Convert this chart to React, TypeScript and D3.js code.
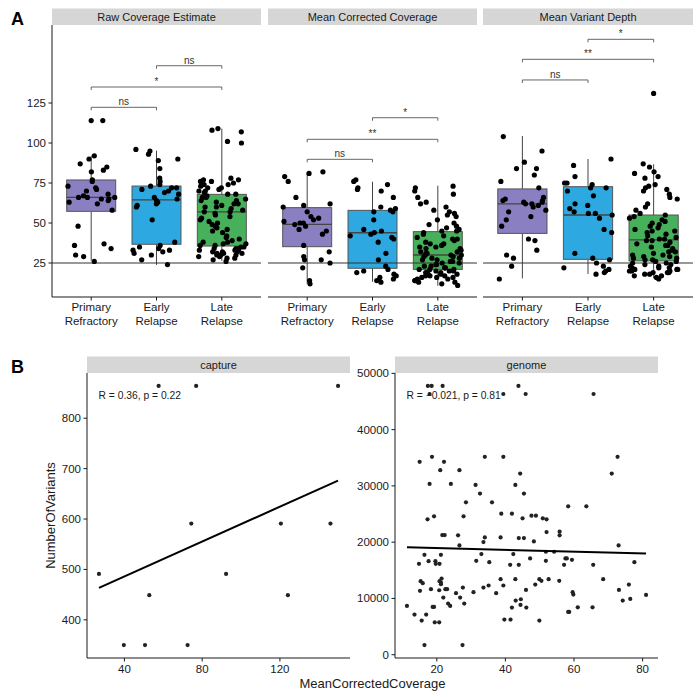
import React from "react";
import * as d3 from "d3";

// ---------- Panel A data ----------
const categories = ["Primary Refractory", "Early Relapse", "Late Relapse"];
const categoryLines = [["Primary", "Refractory"], ["Early", "Relapse"], ["Late", "Relapse"]];
const metrics = ["Raw Coverage Estimate", "Mean Corrected Coverage", "Mean Variant Depth"];
const yTicksA = [25, 50, 75, 100, 125];
const thresholdA = 25;

const rawPrimary = [114, 92, 90, 87, 85, 83, 82, 77, 76, 73, 72, 71, 70, 68, 67, 66, 66, 66, 65, 65, 64, 63, 62, 58, 48, 37, 36, 34, 30, 29, 26];
const rawEarly = [96, 95, 93, 90, 89, 84, 78, 76, 74, 73, 72, 72, 71, 70, 69, 68, 66, 65, 64, 63, 62, 61, 60, 52, 38, 36, 35, 34, 33, 33, 32, 31, 30, 27, 24];
const rawLate = [109, 108, 107, 101, 100, 78, 77, 77, 76, 76, 75, 74, 74, 73, 72, 72, 71, 70, 70, 69, 68, 68, 67, 66, 66, 65, 64, 64, 63, 62, 62, 61, 60, 60, 59, 58, 57, 57, 56, 55, 54, 53, 52, 51, 50, 49, 48, 47, 46, 45, 44, 42, 41, 40, 39, 38, 38, 37, 37, 36, 36, 35, 35, 34, 34, 34, 33, 33, 33, 33, 32, 32, 32, 31, 31, 31, 30, 30, 30, 29, 29, 28, 28, 27, 26];

const correctedPrimary = [82, 81, 79, 76, 66, 62, 61, 60, 57, 54, 53, 52, 51, 50, 50, 49, 48, 46, 45, 43, 36, 32, 29, 27, 27, 25, 22, 14, 12];
const correctedEarly = [77, 76, 74, 72, 71, 70, 66, 60, 59, 58, 57, 57, 52, 46, 45, 44, 43, 42, 41, 40, 38, 31, 27, 23, 21, 20, 19, 18, 17, 16, 15, 14, 13];
const correctedLate = [73, 72, 70, 68, 66, 63, 62, 60, 58, 57, 56, 55, 54, 52, 50, 49, 48, 47, 46, 45, 45, 44, 43, 42, 41, 40, 40, 39, 38, 37, 37, 36, 35, 35, 34, 34, 33, 32, 32, 31, 31, 30, 30, 30, 29, 29, 28, 28, 27, 27, 26, 26, 25, 25, 24, 24, 23, 23, 22, 22, 22, 21, 21, 21, 20, 20, 20, 19, 19, 19, 18, 18, 18, 17, 17, 17, 16, 16, 16, 15, 15, 14, 14, 13, 13, 12, 11];

const depthPrimary = [104, 95, 88, 84, 84, 80, 76, 72, 66, 65, 64, 64, 63, 63, 62, 62, 61, 60, 58, 57, 54, 52, 48, 40, 39, 33, 30, 28, 23, 15];
const depthEarly = [90, 86, 79, 75, 75, 74, 72, 72, 70, 67, 62, 61, 59, 57, 56, 56, 55, 53, 46, 44, 31, 28, 27, 25, 23, 22, 21, 20, 19, 18];
const depthLate = [87, 85, 82, 81, 79, 78, 74, 73, 72, 71, 70, 68, 66, 65, 62, 60, 58, 56, 55, 54, 53, 52, 51, 50, 49, 48, 47, 46, 45, 45, 44, 43, 42, 41, 40, 40, 39, 39, 38, 37, 36, 36, 35, 34, 33, 32, 32, 31, 30, 30, 29, 29, 28, 28, 27, 27, 26, 26, 25, 25, 24, 24, 23, 23, 22, 22, 22, 21, 21, 21, 20, 20, 20, 19, 19, 19, 18, 18, 17, 17, 16, 15];

// box stats: [lower whisker, q1, median, q3, upper whisker]
const rawStats = [[26.4, 57.3, 66, 76.9, 91.9], [23.8, 36.7, 64.4, 73.1, 95.2], [26.3, 35.6, 56.9, 67.9, 109]];
const correctedStats = [[11.9, 35.2, 49.2, 59.6, 81.4], [13.3, 21.7, 43.9, 57.9, 75.8], [10.8, 21.0, 30.0, 44.6, 73.3]];
const depthStats = [[15.4, 43.5, 61.9, 71.3, 104.4], [18.1, 27.3, 55, 72.7, 90], [15.4, 26.3, 39.4, 55, 86.7]];
const rawOutliers = [[114], [], []];
const correctedOutliers = [[], [], []];
const depthOutliers = [[], [], [131]];

const bracketPairs = [[0, 1], [0, 2], [1, 2]];
const rawBracketY = [122.3, 135, 148.3];
const rawBracketLabel = ["ns", "*", "ns"];
const correctedBracketY = [89.8, 102.3, 115.8];
const correctedBracketLabel = ["ns", "**", "*"];
const depthBracketY = [139.4, 152.3, 164.8];
const depthBracketLabel = ["ns", "**", "*"];

const boxColors = ["#8a7fc1", "#2ea8e1", "#47b05a"];

// ---------- Panel B data ----------
const captureX = [26.9, 39.7, 50.6, 52.8, 57.6, 72.5, 74.4, 76.9, 92.3, 120.5, 124.1, 146, 149.9];
const captureY = [491, 350, 350, 449, 864, 350, 591, 864, 491, 591, 449, 591, 864];
const genomeX = [17.4, 18.5, 21.7, 43.8, 17.9, 39.4, 45.9, 65.7, 18.6, 34.0, 39.4, 72.7, 15.0, 22.1, 21.0, 26.6, 44.3, 71.0, 17.9, 24.1, 31.3, 42.9, 32.6, 45.4, 28.5, 36.1, 58.3, 63.6, 38.8, 41.9, 45.0, 19.2, 17.3, 27.8, 47.6, 48.9, 50.9, 52.0, 52.0, 55.8, 55.8, 21.6, 22.3, 26.2, 26.6, 73.0, 33.6, 34.0, 38.6, 43.9, 45.4, 48.3, 16.4, 21.2, 33.0, 42.3, 51.8, 54.2, 17.6, 14.8, 19.6, 19.7, 20.8, 31.5, 35.3, 41.4, 43.9, 47.2, 51.8, 57.5, 57.9, 57.1, 59.4, 65.6, 77.6, 15.3, 15.9, 15.1, 18.3, 20.8, 21.2, 21.2, 21.4, 20.7, 21.9, 22.5, 23.0, 23.3, 23.9, 25.6, 26.8, 27.6, 28.0, 30.7, 33.6, 35.1, 37.3, 38.6, 39.4, 42.9, 43.0, 44.5, 44.4, 46.0, 46.1, 41.9, 48.7, 49.9, 50.5, 52.6, 55.7, 59.6, 59.8, 61.1, 65.4, 68.5, 73.1, 76.0, 74.2, 76.4, 81.0, 58.6, 58.3, 11.3, 13.5, 16.9, 15.6, 19.2, 18.8, 19.4, 20.7, 39.7, 41.5, 49.9, 16.4, 27.5];
const genomeY = [47760, 47760, 47760, 47760, 46330, 46330, 46330, 46330, 35160, 35160, 35160, 35160, 34270, 34270, 32790, 32790, 32190, 32190, 30350, 30350, 30180, 30180, 28630, 28630, 27090, 27090, 26370, 26370, 25070, 25070, 24240, 24590, 24060, 24590, 24710, 24710, 24240, 24060, 21800, 21860, 21210, 21270, 21270, 21210, 19420, 19420, 20020, 20850, 20850, 20730, 20730, 20140, 17760, 17760, 17880, 17880, 18300, 18300, 16630, 16160, 16630, 16160, 16160, 16690, 16450, 15980, 15980, 17110, 16690, 17110, 17110, 15980, 16870, 15980, 16450, 13070, 12710, 11350, 11640, 13070, 12830, 12530, 13540, 11460, 10160, 11640, 11640, 9090, 8670, 10930, 10160, 11940, 9090, 11110, 11940, 12300, 10930, 13420, 12300, 13420, 9620, 9860, 8850, 11520, 8380, 8380, 12470, 13420, 13130, 13420, 13130, 11110, 10690, 8430, 8430, 13420, 11520, 12470, 9620, 9920, 10630, 7600, 7600, 8670, 7130, 7130, 6060, 8490, 8490, 5760, 5760, 6240, 6240, 6060, 1720, 1720];
const facetsB = ["capture", "genome"];
const captureXTicks = [40, 80, 120];
const captureYTicks = [400, 500, 600, 700, 800];
const genomeXTicks = [20, 40, 60, 80];
const genomeYTicks = [0, 10000, 20000, 30000, 40000, 50000];
const corrLabels = ["R = 0.36, p = 0.22", "R = \u22120.021, p = 0.81"];

const FONT = "'Liberation Sans', Arial, Helvetica, sans-serif";
const INK = "#1a1a1a";

// deterministic horizontal jitter offset in [-0.5, 0.5)
function jitter(i: number, seed: number) {
  const s = Math.sin((i + 1) * 12.9898 + (seed + 1) * 78.233) * 43758.5453;
  return s - Math.floor(s) - 0.5;
}

function expand(vals: number[]) {
  const [a, b] = d3.extent(vals) as [number, number];
  const p = (b - a) * 0.05;
  return [a - p, b + p];
}

function fitLine(xs: number[], ys: number[]) {
  const mx = d3.mean(xs)!, my = d3.mean(ys)!;
  let sxy = 0, sxx = 0;
  xs.forEach((x, i) => { sxy += (x - mx) * (ys[i] - my); sxx += (x - mx) * (x - mx); });
  const slope = sxy / sxx;
  return (x: number) => my + slope * (x - mx);
}

export default function App() {
  const W = 700, H = 697;
  const aTop = 25, aBot = 297;
  const yA = d3.scaleLinear().domain([3.75, 173.75]).range([aBot, aTop]);
  const panelX = [[52, 261], [268, 477], [483, 693]];
  const points = [[rawPrimary, rawEarly, rawLate], [correctedPrimary, correctedEarly, correctedLate], [depthPrimary, depthEarly, depthLate]];
  const stats = [rawStats, correctedStats, depthStats];
  const outliers = [rawOutliers, correctedOutliers, depthOutliers];
  const bY = [rawBracketY, correctedBracketY, depthBracketY];
  const bL = [rawBracketLabel, correctedBracketLabel, depthBracketLabel];

  // Panel B
  const bTop = 373, bBot = 658;
  const bPanels = [[87, 350], [395, 658]];
  const xs = [captureX, genomeX];
  const ys = [captureY, genomeY];
  const xTicksB = [captureXTicks, genomeXTicks];
  const yTicksB = [captureYTicks, genomeYTicks];

  return (
    <svg width={W} height={H} style={{ position: "absolute", left: 0, top: 0, background: "#fff" }} fontFamily={FONT}>
      <rect x={0} y={0} width={W} height={H} fill="#fff" />
      <text x={11} y={24.5} fontSize={18} fontWeight="bold" fill="#000">A</text>
      <text x={11} y={373} fontSize={18} fontWeight="bold" fill="#000">B</text>

      {/* Panel A */}
      {metrics.map((m, mi) => {
        const [x0, x1] = panelX[mi];
        const xs = d3.scalePoint<string>().domain(categories).range([x0, x1]).padding(0.6);
        const step = xs.step();
        const bw = step * 0.75;
        return (
          <g key={m}>
            <rect x={x0} y={8.5} width={x1 - x0} height={aTop - 8.5} fill="#d6d6d6" />
            <text x={(x0 + x1) / 2} y={20.5} fontSize={11} textAnchor="middle" fill={INK}>{m}</text>
            {categories.map((c, ci) => {
              const cx = xs(c)!;
              const [lo, q1, med, q3, hi] = stats[mi][ci];
              return (
                <g key={c}>
                  <line x1={cx} x2={cx} y1={yA(hi)} y2={yA(q3)} stroke="#444" strokeWidth={1} />
                  <line x1={cx} x2={cx} y1={yA(q1)} y2={yA(lo)} stroke="#444" strokeWidth={1} />
                  <rect x={cx - bw / 2} y={yA(q3)} width={bw} height={yA(q1) - yA(q3)} fill={boxColors[ci]} stroke="#555" strokeWidth={1} />
                  <line x1={cx - bw / 2} x2={cx + bw / 2} y1={yA(med)} y2={yA(med)} stroke="#444" strokeWidth={1.3} />
                </g>
              );
            })}
            <line x1={x0} x2={x1} y1={yA(thresholdA)} y2={yA(thresholdA)} stroke="#333" strokeWidth={1} />
            {categories.map((c, ci) => {
              const cx = xs(c)!;
              return (
                <g key={c + "p"}>
                  {outliers[mi][ci].map((v, k) => (
                    <circle key={"o" + k} cx={cx} cy={yA(v)} r={2.6} fill="#000" />
                  ))}
                  {points[mi][ci].map((v, k) => (
                    <circle key={k} cx={cx + jitter(k, mi * 3 + ci) * 2 * 0.37 * step} cy={yA(v)} r={2.6} fill="#000" />
                  ))}
                </g>
              );
            })}
            {bracketPairs.map(([a, b], bi) => {
              const xa = xs(categories[a])!, xb = xs(categories[b])!;
              const y = yA(bY[mi][bi]);
              return (
                <g key={"b" + bi}>
                  <path d={`M${xa},${y + 3}V${y}H${xb}V${y + 3}`} fill="none" stroke="#555" strokeWidth={0.9} />
                  <text x={(xa + xb) / 2} y={y - 2.2} fontSize={10} textAnchor="middle" fill="#333">{bL[mi][bi]}</text>
                </g>
              );
            })}
            {/* axes */}
            <line x1={x0} x2={x1} y1={aBot} y2={aBot} stroke={INK} strokeWidth={1} />
            {categories.map((c, ci) => {
              const cx = xs(c)!;
              return (
                <g key={c + "t"}>
                  <line x1={cx} x2={cx} y1={aBot} y2={aBot + 3.5} stroke={INK} strokeWidth={1} />
                  <text x={cx} y={311} fontSize={11.5} textAnchor="middle" fill={INK}>{categoryLines[ci][0]}</text>
                  <text x={cx} y={324.5} fontSize={11.5} textAnchor="middle" fill={INK}>{categoryLines[ci][1]}</text>
                </g>
              );
            })}
            {mi === 0 && (
              <g>
                <line x1={x0} x2={x0} y1={aTop} y2={aBot} stroke={INK} strokeWidth={1} />
                {yTicksA.map(t => (
                  <g key={t}>
                    <line x1={x0 - 3.5} x2={x0} y1={yA(t)} y2={yA(t)} stroke={INK} strokeWidth={1} />
                    <text x={x0 - 6} y={yA(t) + 4} fontSize={11.5} textAnchor="end" fill={INK}>{t}</text>
                  </g>
                ))}
              </g>
            )}
          </g>
        );
      })}

      {/* Panel B */}
      {facetsB.map((f, fi) => {
        const [x0, x1] = bPanels[fi];
        const xsc = d3.scaleLinear().domain(expand(xs[fi])).range([x0, x1]);
        const ysc = d3.scaleLinear().domain(expand(ys[fi])).range([bBot, bTop]);
        const line = fitLine(xs[fi], ys[fi]);
        const [mnx, mxx] = d3.extent(xs[fi]) as [number, number];
        return (
          <g key={f}>
            <rect x={x0} y={356.5} width={x1 - x0} height={bTop - 356.5} fill="#d6d6d6" />
            <text x={(x0 + x1) / 2} y={369} fontSize={11} textAnchor="middle" fill={INK}>{f}</text>
            {xs[fi].map((x, i) => (
              <circle key={i} cx={xsc(x)} cy={ysc(ys[fi][i])} r={2.1} fill="#222" />
            ))}
            <line x1={xsc(mnx)} x2={xsc(mxx)} y1={ysc(line(mnx))} y2={ysc(line(mxx))} stroke="#000" strokeWidth={2} />
            <text x={x0 + 11.5} y={398.5} fontSize={10.3} fill={INK}>{corrLabels[fi]}</text>
            <line x1={x0} x2={x0} y1={bTop} y2={bBot} stroke={INK} strokeWidth={1} />
            <line x1={x0} x2={x1} y1={bBot} y2={bBot} stroke={INK} strokeWidth={1} />
            {yTicksB[fi].map(t => (
              <g key={t}>
                <line x1={x0 - 3.5} x2={x0} y1={ysc(t)} y2={ysc(t)} stroke={INK} strokeWidth={1} />
                <text x={x0 - 6} y={ysc(t) + 4} fontSize={11.5} textAnchor="end" fill={INK}>{t}</text>
              </g>
            ))}
            {xTicksB[fi].map(t => (
              <g key={t}>
                <line x1={xsc(t)} x2={xsc(t)} y1={bBot} y2={bBot + 3.5} stroke={INK} strokeWidth={1} />
                <text x={xsc(t)} y={672.5} fontSize={11.5} textAnchor="middle" fill={INK}>{t}</text>
              </g>
            ))}
          </g>
        );
      })}
      <text x={372.5} y={688} fontSize={13} textAnchor="middle" fill={INK}>MeanCorrectedCoverage</text>
      <text transform="translate(54.5,515.5) rotate(-90)" fontSize={13} textAnchor="middle" fill={INK}>NumberOfVariants</text>
    </svg>
  );
}
